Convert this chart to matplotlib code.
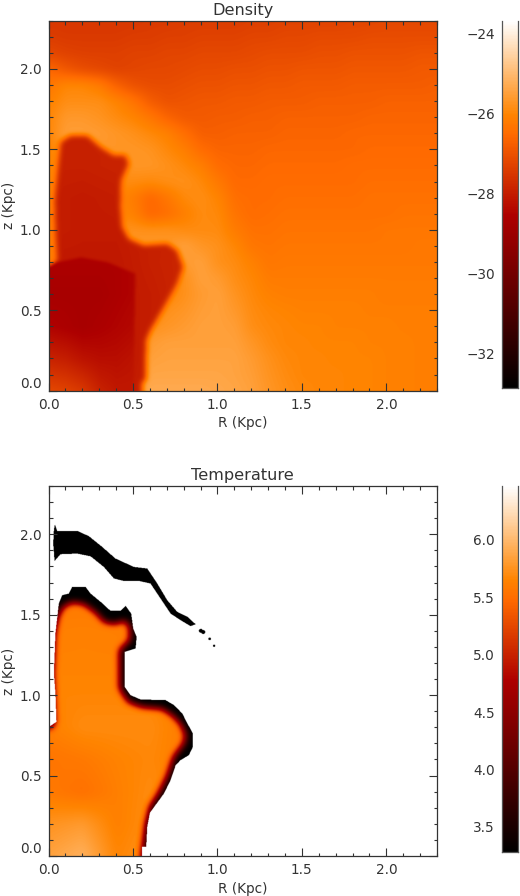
"""
Density and temperature maps of the bubble, R-z plane, IDL look.
Fields are rebuilt from coarse value grids plus region outlines read off the picture.
"""

import numpy as np
import matplotlib
matplotlib.use("Agg")
import matplotlib.pyplot as plt
from matplotlib.colors import LinearSegmentedColormap, Normalize
from matplotlib.path import Path

# ============================== DATA (R, z in Kpc) ==============================

TITLES = ["Density", "Temperature"]
X_LABEL = "R (Kpc)"
Y_LABEL = "z (Kpc)"
DENS_TICKS = [-32, -30, -28, -26, -24]
TEMP_TICKS = [3.5, 4.0, 4.5, 5.0, 5.5, 6.0]
DENS_RANGE = (-32.875, -23.69)
TEMP_RANGE = (3.28, 6.47)

# log density of the ambient gas + shell, top row z=2.3, bottom row z=0, R = 0..2.3
dens_r = np.arange(24) * 0.1
dens_z = np.arange(24) * 0.1
dens_bg = [
    [-27.5, -27.5, -27.5, -27.5, -27.5, -27.5, -27.45, -27.45, -27.4, -27.4, -27.4, -27.4, -27.35, -27.35, -27.3, -27.3, -27.3, -27.3, -27.25, -27.25, -27.2, -27.2, -27.2, -27.2],
    [-27.4, -27.45, -27.45, -27.45, -27.45, -27.4, -27.4, -27.35, -27.35, -27.3, -27.3, -27.3, -27.25, -27.25, -27.2, -27.2, -27.15, -27.15, -27.15, -27.1, -27.1, -27.1, -27.1, -27.1],
    [-27.2, -27.3, -27.35, -27.35, -27.35, -27.3, -27.3, -27.25, -27.25, -27.2, -27.2, -27.2, -27.15, -27.1, -27.1, -27.1, -27.05, -27.05, -27.0, -27.0, -27.0, -27.0, -26.95, -26.95],
    [-26.6, -26.9, -27.1, -27.2, -27.3, -27.25, -27.2, -27.2, -27.15, -27.1, -27.1, -27.05, -27.05, -27.0, -27.0, -26.95, -26.95, -26.95, -26.9, -26.9, -26.9, -26.9, -26.85, -26.85],
    [-26.3, -26.0, -26.0, -26.2, -26.7, -27.0, -27.1, -27.1, -27.05, -27.0, -27.0, -26.95, -26.95, -26.9, -26.9, -26.85, -26.85, -26.85, -26.8, -26.8, -26.8, -26.8, -26.8, -26.75],
    [-26.1, -25.85, -25.85, -25.85, -26.05, -26.35, -26.8, -27.0, -26.95, -26.9, -26.9, -26.85, -26.85, -26.8, -26.8, -26.8, -26.75, -26.75, -26.75, -26.75, -26.7, -26.7, -26.7, -26.7],
    [-26.0, -25.65, -25.65, -25.75, -25.9, -26.05, -26.3, -26.65, -26.85, -26.85, -26.8, -26.8, -26.75, -26.75, -26.7, -26.7, -26.7, -26.7, -26.7, -26.65, -26.65, -26.65, -26.65, -26.65],
    [-26.0, -25.55, -25.55, -25.6, -25.7, -25.8, -25.95, -26.1, -26.45, -26.75, -26.75, -26.7, -26.7, -26.7, -26.65, -26.65, -26.65, -26.65, -26.6, -26.6, -26.6, -26.6, -26.6, -26.6],
    [-26.1, -25.7, -25.7, -25.7, -25.7, -25.7, -25.75, -25.95, -26.15, -26.5, -26.65, -26.65, -26.65, -26.6, -26.6, -26.6, -26.6, -26.6, -26.6, -26.55, -26.55, -26.55, -26.55, -26.55],
    [-26.1, -25.8, -25.8, -25.8, -25.8, -25.7, -25.7, -25.8, -25.95, -26.15, -26.5, -26.6, -26.6, -26.55, -26.55, -26.55, -26.55, -26.55, -26.5, -26.5, -26.5, -26.5, -26.5, -26.5],
    [-26.1, -25.9, -25.9, -25.9, -25.9, -25.9, -25.95, -25.85, -25.8, -25.95, -26.25, -26.55, -26.55, -26.5, -26.5, -26.5, -26.5, -26.5, -26.5, -26.45, -26.45, -26.45, -26.45, -26.45],
    [-26.1, -26.0, -26.0, -26.0, -26.0, -26.2, -26.6, -26.3, -25.95, -25.85, -26.05, -26.45, -26.5, -26.5, -26.45, -26.45, -26.45, -26.45, -26.45, -26.4, -26.4, -26.4, -26.4, -26.4],
    [-26.2, -26.0, -26.0, -26.0, -26.0, -26.1, -26.6, -26.45, -26.15, -25.9, -25.95, -26.35, -26.5, -26.45, -26.4, -26.4, -26.4, -26.4, -26.4, -26.4, -26.4, -26.35, -26.35, -26.35],
    [-26.2, -25.9, -25.9, -25.9, -25.8, -25.8, -25.8, -25.8, -25.9, -25.9, -25.9, -26.2, -26.4, -26.4, -26.35, -26.35, -26.35, -26.35, -26.35, -26.35, -26.3, -26.3, -26.3, -26.3],
    [-26.2, -25.9, -25.9, -25.9, -25.8, -25.7, -25.7, -25.7, -25.5, -25.7, -25.8, -26.0, -26.3, -26.35, -26.3, -26.3, -26.3, -26.3, -26.3, -26.3, -26.3, -26.3, -26.25, -26.25],
    [-26.2, -26.0, -26.0, -26.0, -26.0, -26.0, -26.0, -25.9, -25.6, -25.5, -25.8, -25.9, -26.1, -26.3, -26.25, -26.25, -26.25, -26.25, -26.25, -26.25, -26.25, -26.25, -26.25, -26.25],
    [-26.0, -26.0, -26.0, -26.0, -26.0, -26.0, -26.0, -26.0, -25.8, -25.5, -25.6, -25.85, -26.0, -26.2, -26.2, -26.2, -26.2, -26.2, -26.2, -26.2, -26.2, -26.2, -26.2, -26.2],
    [-26.0, -26.0, -26.0, -26.0, -26.0, -26.0, -26.0, -26.0, -25.8, -25.6, -25.5, -25.75, -25.95, -26.1, -26.15, -26.15, -26.15, -26.15, -26.15, -26.15, -26.2, -26.2, -26.2, -26.2],
    [-26.0, -26.0, -26.0, -26.0, -26.0, -26.0, -26.0, -25.8, -25.7, -25.55, -25.5, -25.65, -25.9, -26.0, -26.05, -26.1, -26.1, -26.1, -26.1, -26.15, -26.15, -26.15, -26.15, -26.15],
    [-26.0, -26.0, -26.0, -26.0, -26.0, -26.0, -25.8, -25.7, -25.6, -25.5, -25.5, -25.55, -25.85, -25.95, -26.0, -26.05, -26.05, -26.1, -26.1, -26.1, -26.1, -26.15, -26.15, -26.15],
    [-26.0, -26.0, -26.0, -26.0, -26.0, -25.9, -25.6, -25.5, -25.5, -25.5, -25.5, -25.5, -25.7, -25.9, -26.0, -26.0, -26.05, -26.05, -26.05, -26.1, -26.1, -26.1, -26.15, -26.15],
    [-26.0, -26.0, -26.0, -26.0, -26.0, -25.8, -25.5, -25.45, -25.45, -25.45, -25.45, -25.45, -25.6, -25.8, -25.95, -26.0, -26.0, -26.05, -26.05, -26.05, -26.1, -26.1, -26.15, -26.15],
    [-26.0, -26.0, -26.0, -26.0, -26.0, -25.7, -25.4, -25.4, -25.4, -25.4, -25.4, -25.45, -25.55, -25.75, -25.9, -26.0, -26.0, -26.0, -26.05, -26.05, -26.1, -26.1, -26.15, -26.15],
    [-26.0, -26.0, -26.0, -26.0, -26.0, -25.6, -25.3, -25.3, -25.3, -25.3, -25.35, -25.4, -25.5, -25.7, -25.85, -25.95, -26.0, -26.0, -26.05, -26.05, -26.1, -26.1, -26.15, -26.15],
]

# cavity interior, z = 1.6 .. 0 (top to bottom), R = 0, .2, .4, .6, .8
cav_r = [0.0, 0.2, 0.4, 0.6, 0.8]
cav_z = [0.0, 0.2, 0.4, 0.6, 0.8, 1.0, 1.2, 1.4, 1.6]
dens_cav = [
    [-27.95, -27.95, -27.9, -27.9, -27.9],
    [-27.95, -27.95, -27.9, -27.9, -27.9],
    [-28.0, -28.05, -28.0, -27.9, -27.9],
    [-28.0, -28.05, -28.05, -27.95, -27.9],
    [-28.1, -28.1, -28.1, -27.95, -27.85],
    [-28.1, -28.1, -28.1, -28.0, -27.85],
    [-28.1, -28.1, -28.1, -28.0, -27.9],
    [-28.1, -28.1, -28.1, -28.0, -27.9],
    [-28.0, -28.0, -28.0, -28.0, -28.0],
]
cav_outline_r = [0.551, 0.551, 0.571, 0.575, 0.60, 0.68, 0.758, 0.794, 0.758, 0.699, 0.561, 0.472, 0.433, 0.423, 0.427, 0.472, 0.453, 0.384, 0.305, 0.226, 0.127, 0.068, 0.052, 0.033, 0.038, 0.048, 0.0, 0.0]
cav_outline_z = [0.0, 0.056, 0.066, 0.315, 0.377, 0.522, 0.667, 0.77, 0.874, 0.915, 0.905, 0.946, 1.019, 1.143, 1.308, 1.412, 1.464, 1.464, 1.516, 1.588, 1.588, 1.547, 1.391, 1.184, 0.977, 0.812, 0.77, 0.0]

# darker core of the cavity, z = .8 .. 0, R = 0 .. .5
core_r = [0.0, 0.1, 0.2, 0.3, 0.4, 0.5]
core_z = [0.0, 0.2, 0.4, 0.6, 0.8]
dens_core = [
    [-28.6, -28.6, -28.6, -28.6, -28.6, -28.5],
    [-28.7, -28.7, -28.7, -28.7, -28.6, -28.5],
    [-28.5, -28.6, -28.7, -28.6, -28.5, -28.4],
    [-27.9, -28.0, -28.2, -28.3, -28.3, -28.2],
    [-27.2, -27.3, -27.5, -27.9, -28.1, -28.1],
]
core_outline_r = [0.0, 0.05, 0.19, 0.345, 0.51, 0.50, 0.0]
core_outline_z = [0.77, 0.80, 0.83, 0.80, 0.73, 0.0, 0.0]

# temperature: hot interior, z = 1.6 .. 0, R = 0, .2, .4, .6, .8
temp_hot = [
    [5.58, 5.58, 5.58, 5.58, 5.58],
    [5.62, 5.63, 5.62, 5.6, 5.6],
    [5.64, 5.64, 5.64, 5.62, 5.6],
    [5.66, 5.66, 5.66, 5.66, 5.6],
    [5.62, 5.70, 5.70, 5.70, 5.6],
    [5.55, 5.58, 5.64, 5.68, 5.6],
    [5.58, 5.52, 5.62, 5.70, 5.6],
    [5.75, 5.80, 5.62, 5.72, 5.6],
    [5.85, 5.95, 5.66, 5.75, 5.7],
]
bubble_outline_r = [0.551, 0.551, 0.575, 0.581, 0.597, 0.63, 0.68, 0.719, 0.749, 0.778, 0.827, 0.851, 0.851, 0.818, 0.788, 0.739, 0.689, 0.541, 0.482, 0.447, 0.447, 0.512, 0.518, 0.498, 0.486, 0.453, 0.423, 0.364, 0.305, 0.246, 0.216, 0.137, 0.117, 0.078, 0.058, 0.038, 0.029, 0.038, 0.044, 0.0, 0.0]
bubble_outline_z = [0.0, 0.058, 0.058, 0.182, 0.269, 0.317, 0.389, 0.472, 0.565, 0.596, 0.627, 0.679, 0.762, 0.824, 0.886, 0.938, 0.969, 0.973, 1.0, 1.052, 1.269, 1.29, 1.362, 1.414, 1.507, 1.555, 1.524, 1.524, 1.58, 1.631, 1.673, 1.673, 1.631, 1.621, 1.569, 1.383, 1.135, 1.01, 0.834, 0.803, 0.0]
hot_outline_r = [0.55, 0.56, 0.575, 0.60, 0.65, 0.70, 0.74, 0.80, 0.81, 0.78, 0.73, 0.67, 0.55, 0.47, 0.42, 0.42, 0.48, 0.48, 0.45, 0.39, 0.33, 0.275, 0.206, 0.137, 0.08, 0.05, 0.03, 0.02, 0.025, 0.03, 0.0, 0.0]
hot_outline_z = [0.0, 0.08, 0.2, 0.306, 0.389, 0.493, 0.617, 0.70, 0.752, 0.824, 0.876, 0.917, 0.928, 0.959, 1.041, 1.28, 1.342, 1.424, 1.466, 1.445, 1.455, 1.518, 1.569, 1.58, 1.549, 1.487, 1.383, 1.135, 1.01, 0.824, 0.79, 0.0]
shell_outline_r = [0.035, 0.048, 0.167, 0.236, 0.315, 0.393, 0.502, 0.581, 0.64, 0.699, 0.758, 0.818, 0.867, 0.837, 0.778, 0.719, 0.66, 0.60, 0.532, 0.443, 0.384, 0.324, 0.246, 0.167, 0.068, 0.033, 0.025, 0.029]
shell_outline_z = [2.062, 2.021, 2.021, 1.988, 1.921, 1.849, 1.797, 1.787, 1.694, 1.59, 1.518, 1.487, 1.441, 1.429, 1.466, 1.507, 1.6, 1.694, 1.71, 1.71, 1.725, 1.797, 1.863, 1.88, 1.876, 1.834, 1.942, 2.025]
blob_r = [0.898, 0.912, 0.950, 0.976]
blob_z = [1.400, 1.392, 1.350, 1.307]
blob_size = [0.012, 0.012, 0.008, 0.007]

# =================================================================================

EXTENT = 2.3
N_GRID = 920
rr = (np.arange(N_GRID) + 0.5) / N_GRID * EXTENT
zz = (np.arange(N_GRID) + 0.5) / N_GRID * EXTENT
RR, ZZ = np.meshgrid(rr, zz)
POINTS = np.column_stack([RR.ravel(), ZZ.ravel()])


def bilinear(values, r_nodes, z_nodes):
    # rows of values are listed top (largest z) first
    rows = np.array([np.interp(rr, r_nodes, row) for row in values[::-1]])
    return np.array([np.interp(zz, z_nodes, rows[:, j]) for j in range(N_GRID)]).T


def inside(r_pts, z_pts):
    path = Path(np.column_stack([r_pts, z_pts]))
    return path.contains_points(POINTS).reshape(N_GRID, N_GRID)


def blur(field, sigma_kpc):
    # three box passes along each axis, good enough for a gaussian
    half = max(1, int(sigma_kpc / EXTENT * N_GRID))
    out = field.astype(float)
    for axis in (0, 1):
        for _ in range(3):
            pad = [(0, 0), (0, 0)]
            pad[axis] = (half + 1, half)
            cs = np.cumsum(np.pad(out, pad, mode="edge"), axis=axis)
            hi = np.take(cs, range(2 * half + 1, cs.shape[axis]), axis=axis)
            lo = np.take(cs, range(0, cs.shape[axis] - 2 * half - 1), axis=axis)
            out = (hi - lo) / (2 * half + 1)
    return out


def density_field():
    field = blur(bilinear(dens_bg, dens_r, dens_z), 0.02)
    cav = bilinear(dens_cav, cav_r, cav_z)
    core = bilinear(dens_core, core_r, core_z)
    m_cav = blur(inside(cav_outline_r, cav_outline_z), 0.016)
    m_core = blur(inside(core_outline_r, core_outline_z), 0.008)
    field = field * (1 - m_cav) + cav * m_cav
    return field * (1 - m_core) + core * m_core


def temperature_field():
    field = np.full((N_GRID, N_GRID), 7.0)     # above the scale, so white
    hot = blur(bilinear(temp_hot, cav_r, cav_z), 0.02)
    m_hot = blur(inside(hot_outline_r, hot_outline_z), 0.02)
    in_bubble = inside(bubble_outline_r, bubble_outline_z)
    field[in_bubble] = (TEMP_RANGE[0] * (1 - m_hot) + hot * m_hot)[in_bubble]
    field[inside(shell_outline_r, shell_outline_z)] = TEMP_RANGE[0]
    for r0, z0, size in zip(blob_r, blob_z, blob_size):
        field[np.hypot(RR - r0, ZZ - z0) < size] = TEMP_RANGE[0]
    return field


# IDL red temperature table
red_temp = LinearSegmentedColormap.from_list("red_temp", [
    (0.0, (0, 0, 0)),
    (0.47, (174 / 255, 0, 0)),
    (0.69, (1, 106 / 255, 0)),
    (0.745, (1, 132 / 255, 0)),
    (1.0, (1, 1, 1)),
])

W, H = 520.0, 896.0
plt.rcParams["font.family"] = "DejaVu Sans"
plt.rcParams["font.size"] = 9.8
plt.rcParams["text.color"] = "#333333"
plt.rcParams["axes.labelcolor"] = "#333333"
plt.rcParams["xtick.labelcolor"] = "#333333"
plt.rcParams["ytick.labelcolor"] = "#333333"


def panel(top_px, bottom_px, cbar_bottom_px, field, vrange, title, ticks, fmt, xlabel_pad):
    ax = fig.add_axes([48.5 / W, 1 - bottom_px / H, 388.5 / W, (bottom_px - top_px) / H])
    norm = Normalize(*vrange)
    im = ax.imshow(field, origin="lower", extent=[0, EXTENT, 0, EXTENT], cmap=red_temp,
                   norm=norm, aspect="auto", interpolation="antialiased",
                   interpolation_stage="rgba")
    ax.set_xlim(0, EXTENT)
    ax.set_ylim(0, EXTENT)
    ax.set_xticks(np.arange(0, 2.01, 0.5))
    ax.set_yticks(np.arange(0, 2.01, 0.5))
    ax.set_xticks(np.arange(0, 2.31, 0.1), minor=True)
    ax.set_yticks(np.arange(0, 2.31, 0.1), minor=True)
    ax.xaxis.set_major_formatter("{x:.1f}")
    ax.yaxis.set_major_formatter("{x:.1f}")
    ax.tick_params(which="both", direction="in", top=True, right=True, color="#333333", width=0.8)
    ax.tick_params(which="major", length=8 * 0.72, pad=5)
    ax.tick_params(which="minor", length=3.5 * 0.72)
    ax.get_yticklabels()[0].set_verticalalignment("bottom")
    for s in ax.spines.values():
        s.set_linewidth(0.9)
        s.set_color("#333333")
    ax.set_title(title, fontsize=11.6, pad=4)
    ax.set_xlabel(X_LABEL, labelpad=xlabel_pad)
    ax.set_ylabel(Y_LABEL, labelpad=3)

    cax = fig.add_axes([501.7 / W, 1 - cbar_bottom_px / H, 16.5 / W, (cbar_bottom_px - top_px) / H])
    cb = fig.colorbar(im, cax=cax, ticks=ticks, format=fmt)
    cax.yaxis.set_ticks_position("left")
    cax.tick_params(length=0, pad=5)
    # only side lines and the bottom bracket, no lid
    cb.outline.set_visible(False)
    for side in ("left", "right", "bottom"):
        cax.spines[side].set_visible(True)
        cax.spines[side].set_linewidth(0.9)
        cax.spines[side].set_color("#555555")


fig = plt.figure(figsize=(5.2, 8.96), dpi=100)
panel(20.7, 390.6, 388.0, density_field(), DENS_RANGE, TITLES[0], DENS_TICKS, "{x:.0f}", 3.5)
panel(486.0, 856.0, 852.0, temperature_field(), TEMP_RANGE, TITLES[1], TEMP_TICKS, "{x:.1f}", 3.5)
fig.savefig("out.png", dpi=100)
